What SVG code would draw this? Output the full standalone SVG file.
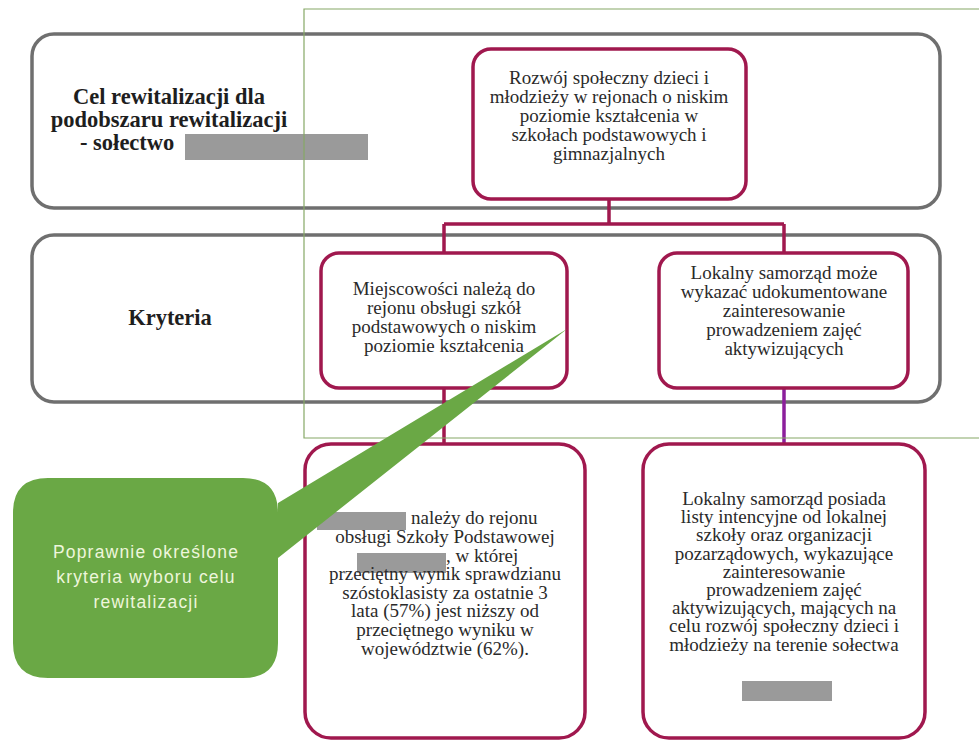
<svg xmlns="http://www.w3.org/2000/svg" width="979" height="746" viewBox="0 0 979 746">
<style>
.outer{fill:#fff;stroke:#6f6f6f;stroke-width:3.5}
.node{fill:#fff;stroke:#a0184e;stroke-width:3.5}
.t{font-family:"Liberation Serif","DejaVu Serif",serif;font-size:19px;fill:#2a2a2a;text-anchor:middle}
.b{font-family:"Liberation Serif","DejaVu Serif",serif;font-size:22.5px;font-weight:bold;fill:#1e1e1e;text-anchor:middle}
.c{font-family:"Liberation Sans","DejaVu Sans",sans-serif;font-size:17.5px;fill:#eef6dc;text-anchor:middle;letter-spacing:1.2px}
.s{text-anchor:start}
.red{fill:#9a9a9a}
.conn{stroke:#a0184e;stroke-width:3.5;fill:none}
</style>
<rect width="979" height="746" fill="#fff"/>
<g id="row-cel">
<rect class="outer" x="32" y="34" width="908" height="174" rx="22"/>
<text class="b" x="169" y="104">Cel rewitalizacji dla</text>
<text class="b" x="169" y="127">podobszaru rewitalizacji</text>
<text class="b s" x="80" y="150">- sołectwo</text>
<rect class="red" x="185" y="134" width="183" height="26"/>
</g>
<g id="row-kryteria">
<rect class="outer" x="32" y="235" width="908" height="167" rx="22"/>
<text class="b" x="170" y="325">Kryteria</text>
</g>
<g id="connectors">
<path class="conn" d="M609 199 V224 M444 224 H784 M444 224 V253 M784 224 V253 M444 388 V444"/>
<path d="M784 388 V444" stroke="#8c1f9c" stroke-width="3.5" fill="none"/>
</g>
<g id="goal">
<rect class="node" x="473" y="49" width="273" height="150" rx="18"/>
<text class="t" x="609" y="84">Rozwój społeczny dzieci i</text>
<text class="t" x="609" y="103">młodzieży w rejonach o niskim</text>
<text class="t" x="609" y="122">poziomie kształcenia w</text>
<text class="t" x="609" y="141">szkołach podstawowych i</text>
<text class="t" x="609" y="160">gimnazjalnych</text>
</g>
<g id="crit1">
<rect class="node" x="321" y="253" width="246" height="135" rx="18"/>
<text class="t" x="444" y="295">Miejscowości należą do</text>
<text class="t" x="444" y="314">rejonu obsługi szkół</text>
<text class="t" x="444" y="333">podstawowych o niskim</text>
<text class="t" x="444" y="352">poziomie kształcenia</text>
</g>
<g id="crit2">
<rect class="node" x="659" y="253" width="249" height="135" rx="18"/>
<text class="t" x="784" y="279">Lokalny samorząd może</text>
<text class="t" x="784" y="298">wykazać udokumentowane</text>
<text class="t" x="784" y="317">zainteresowanie</text>
<text class="t" x="784" y="336">prowadzeniem zajęć</text>
<text class="t" x="784" y="355">aktywizujących</text>
</g>
<g id="frame">
<path d="M979 9 H304 V438 H979" fill="none" stroke="#86a866" stroke-width="1.2"/>
</g>
<g id="ind1">
<rect class="node" x="305" y="444" width="280" height="294" rx="26"/>
<rect class="red" x="317" y="512" width="89" height="18"/>
<text class="t s" x="411" y="524">należy do rejonu</text>
<text class="t" x="445" y="543">obsługi Szkoły Podstawowej</text>
<rect class="red" x="357" y="553" width="89" height="20"/>
<text class="t s" x="446" y="562">, w której</text>
<text class="t" x="445" y="580">przeciętny wynik sprawdzianu</text>
<text class="t" x="445" y="599">szóstoklasisty za ostatnie 3</text>
<text class="t" x="445" y="617">lata (57%) jest niższy od</text>
<text class="t" x="445" y="636">przeciętnego wyniku w</text>
<text class="t" x="445" y="655">województwie (62%).</text>
</g>
<g id="ind2">
<rect class="node" x="643" y="444" width="282" height="294" rx="26"/>
<text class="t" x="784" y="505">Lokalny samorząd posiada</text>
<text class="t" x="784" y="523">listy intencyjne od lokalnej</text>
<text class="t" x="784" y="541">szkoły oraz organizacji</text>
<text class="t" x="784" y="560">pozarządowych, wykazujące</text>
<text class="t" x="784" y="578">zainteresowanie</text>
<text class="t" x="784" y="596">prowadzeniem zajęć</text>
<text class="t" x="784" y="614">aktywizujących, mających na</text>
<text class="t" x="784" y="632">celu rozwój społeczny dzieci i</text>
<text class="t" x="784" y="651">młodzieży na terenie sołectwa</text>
<rect class="red" x="742" y="681" width="90" height="20"/>
</g>
<g id="callout">
<path d="M48 478 H243 Q278 478 278 513 V503 L567 329 L278 558 V643 Q278 678 243 678 H48 Q13 678 13 643 V513 Q13 478 48 478 Z" fill="#6aa845"/>
<text class="c" x="146" y="558">Poprawnie  określone</text>
<text class="c" x="146" y="583">kryteria wyboru celu</text>
<text class="c" x="146" y="608">rewitalizacji</text>
</g>
</svg>
